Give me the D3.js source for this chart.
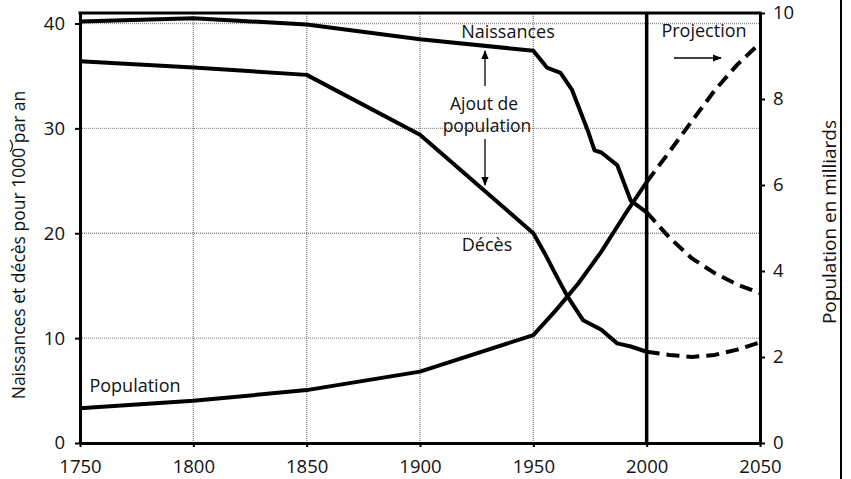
<!DOCTYPE html>
<html>
<head>
<meta charset="utf-8">
<script src="https://cdn.jsdelivr.net/npm/d3@7"></script>
<style>
body { margin: 0; background: #fff; }
svg { font-family: "Open Sans", sans-serif; }
.tick text { font-size: 18.5px; fill: #111; }
</style>
</head>
<body>
<svg id="chart" width="851" height="479"></svg>
<script>
// tick values
var xTicks = [1750, 1800, 1850, 1900, 1950, 2000, 2050];
var leftTicks = [0, 10, 20, 30, 40];
var rightTicks = [0, 2, 4, 6, 8, 10];

// observed series (per 1000 per year, population in billions)
var birthYears = [1750, 1800, 1850, 1900, 1950, 1956, 1962, 1967, 1974, 1977, 1980, 1987, 1993, 2000];
var births     = [40.2, 40.5, 39.9, 38.5, 37.4, 35.8, 35.3, 33.7, 29.8, 27.9, 27.7, 26.5, 23.1, 22.0];
var deathYears = [1750, 1800, 1850, 1900, 1950, 1955, 1960, 1965, 1972, 1980, 1987, 1993, 2000];
var deaths     = [36.4, 35.8, 35.1, 29.4, 20.0, 18.1, 16.0, 14.0, 11.7, 10.8, 9.5, 9.2, 8.7];
var popYears   = [1750, 1800, 1850, 1900, 1950, 1960, 1970, 1980, 1990, 2000];
var population = [0.81, 0.98, 1.23, 1.66, 2.51, 3.09, 3.72, 4.45, 5.28, 6.07];

// projections
var projYears      = [2000, 2010, 2020, 2030, 2040, 2050];
var projBirths     = [22.0, 19.6, 17.6, 16.2, 15.1, 14.3];
var projDeaths     = [8.7, 8.4, 8.2, 8.4, 8.9, 9.6];
var projPopulation = [6.07, 6.77, 7.49, 8.2, 8.8, 9.3];

var svg = d3.select("#chart");
var x = d3.scaleLinear().domain([1750, 2050]).range([80, 760]);
var yL = d3.scaleLinear().domain([0, 41]).range([443, 13]);
var yR = d3.scaleLinear().domain([0, 10]).range([443, 13]);

// arrow head
svg.append("defs").append("marker")
  .attr("id", "head")
  .attr("viewBox", "0 0 10 10")
  .attr("refX", 9).attr("refY", 5)
  .attr("markerWidth", 7).attr("markerHeight", 7)
  .attr("orient", "auto-start-reverse")
  .append("path").attr("d", "M0,1 L10,5 L0,9 z").attr("fill", "#000");

// dotted grid
var grid = svg.append("g").attr("stroke", "#8a8a8a").attr("stroke-width", 1.4).attr("stroke-dasharray", "1,1");
grid.selectAll(".hg").data(leftTicks.filter(function(d) { return d > 0; }))
  .enter().append("line")
  .attr("x1", x(1750)).attr("x2", x(2050))
  .attr("y1", function(d) { return yL(d); }).attr("y2", function(d) { return yL(d); });
grid.selectAll(".vg").data(xTicks.slice(1, 5))
  .enter().append("line")
  .attr("y1", yL(0)).attr("y2", yR(10))
  .attr("x1", function(d) { return x(d); }).attr("x2", function(d) { return x(d); });

// axes
var axL = svg.append("g").attr("transform", "translate(" + x(1750) + ",0)")
  .call(d3.axisLeft(yL).tickValues(leftTicks).tickSize(5).tickSizeOuter(0).tickPadding(10));
var axB = svg.append("g").attr("transform", "translate(0," + yL(0) + ")")
  .call(d3.axisBottom(x).tickValues(xTicks).tickFormat(d3.format("d")).tickSize(4).tickSizeOuter(0).tickPadding(13));
var axR = svg.append("g").attr("transform", "translate(" + x(2050) + ",0)")
  .call(d3.axisRight(yR).tickValues(rightTicks).tickSize(5).tickSizeOuter(0).tickPadding(8));
[axL, axB, axR].forEach(function(a) {
  a.select(".domain").attr("stroke", "#000").attr("stroke-width", 3);
  a.selectAll(".tick line").attr("stroke", "#000").attr("stroke-width", 2);
  a.selectAll(".tick text").attr("font-family", "Open Sans");
});

// top border and the 2000 divider
svg.append("line").attr("x1", x(1750) - 1.5).attr("x2", x(2050) + 1.5)
  .attr("y1", yR(10)).attr("y2", yR(10)).attr("stroke", "#000").attr("stroke-width", 3);
svg.append("line").attr("x1", x(2000)).attr("x2", x(2000))
  .attr("y1", yR(10)).attr("y2", yR(0)).attr("stroke", "#000").attr("stroke-width", 3.5);

// page edge on the right
svg.append("line").attr("x1", 841).attr("x2", 841).attr("y1", 0).attr("y2", 479)
  .attr("stroke", "#000").attr("stroke-width", 2);

function series(years, vals, yScale, dashed) {
  var pts = years.map(function(d, i) { return [d, vals[i]]; });
  svg.append("path").datum(pts)
    .attr("fill", "none").attr("stroke", "#000").attr("stroke-width", 4)
    .attr("stroke-linejoin", "round")
    .attr("stroke-dasharray", dashed ? "13,7" : null)
    .attr("d", d3.line().x(function(d) { return x(d[0]); }).y(function(d) { return yScale(d[1]); }));
}
series(birthYears, births, yL, false);
series(deathYears, deaths, yL, false);
series(popYears, population, yR, false);
series(projYears, projBirths, yL, true);
series(projYears, projDeaths, yL, true);
series(projYears, projPopulation, yR, true);

// axis titles
var leftTitle = svg.append("text").attr("transform", "translate(25,245) rotate(-90)")
  .attr("text-anchor", "middle").attr("font-size", 17.5).attr("fill", "#111")
  .text("Naissances et décès pour 1000 par an");
// small stray mark printed just past "1000"
var full = leftTitle.node().getComputedTextLength();
var upTo = leftTitle.node().getSubStringLength(0, "Naissances et décès pour 1000".length);
var markY = 245 + full / 2 - upTo - 2;
svg.append("path").attr("d", "M10," + (markY - 6) + " Q15," + markY + " 10," + (markY + 6))
  .attr("fill", "none").attr("stroke", "#222").attr("stroke-width", 1.3);

svg.append("text").attr("transform", "translate(836,222) rotate(-90)")
  .attr("text-anchor", "middle").attr("font-size", 19).attr("fill", "#111")
  .text("Population en milliards");

// annotations
function label(t, xx, yy, fs) {
  svg.append("text").attr("x", xx).attr("y", yy).attr("text-anchor", "middle")
    .attr("font-size", fs || 18).attr("fill", "#111").text(t);
}
label("Naissances", 508, 38);
label("Ajout de", 484, 110, 17.5);
label("population", 487, 132, 17.5);
label("Décès", 487, 251);
label("Population", 135, 392);
label("Projection", 704, 37);

svg.append("line").attr("x1", 485).attr("x2", 485).attr("y1", 86).attr("y2", 51)
  .attr("stroke", "#000").attr("stroke-width", 1.3).attr("marker-end", "url(#head)");
svg.append("line").attr("x1", 485).attr("x2", 485).attr("y1", 139).attr("y2", 185)
  .attr("stroke", "#000").attr("stroke-width", 1.3).attr("marker-end", "url(#head)");
svg.append("line").attr("x1", 674).attr("x2", 721).attr("y1", 58).attr("y2", 58)
  .attr("stroke", "#000").attr("stroke-width", 1.3).attr("marker-end", "url(#head)");
</script>
</body>
</html>
